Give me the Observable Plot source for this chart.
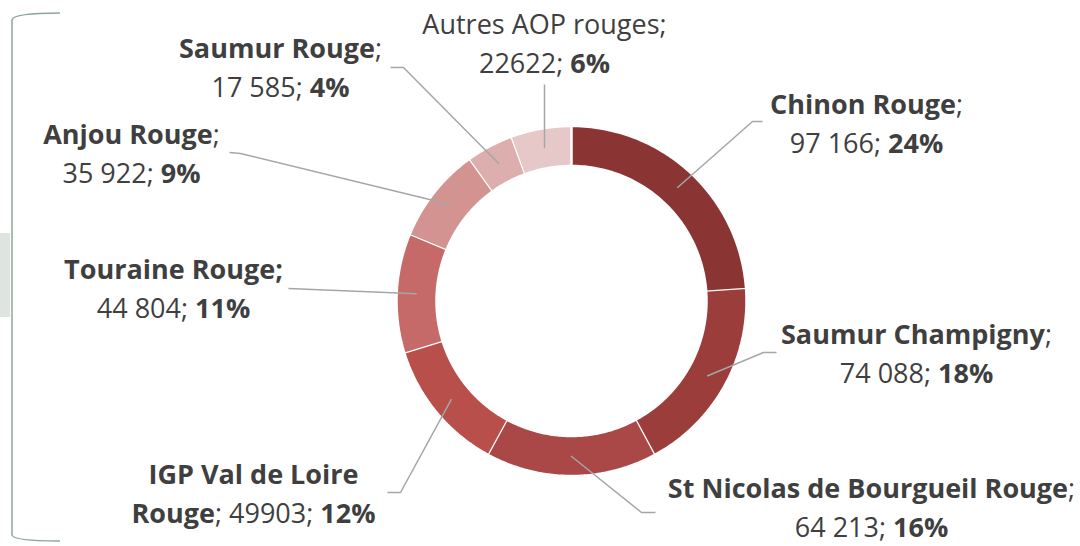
<!DOCTYPE html>
<html>
<head>
<meta charset="utf-8">
<script src="https://cdn.jsdelivr.net/npm/d3@7"></script>
<script src="https://cdn.jsdelivr.net/npm/@observablehq/plot@0.6"></script>
<style>
  html, body { margin: 0; padding: 0; background: #fff; }
  #chart svg { display: block; }
</style>
</head>
<body>
<div id="chart"></div>
<script>
// ---- data ----
const categories = ["Chinon Rouge", "Saumur Champigny", "St Nicolas de Bourgueil Rouge", "IGP Val de Loire Rouge", "Touraine Rouge", "Anjou Rouge", "Saumur Rouge", "Autres AOP rouges"];
const values = [97166, 74088, 64213, 49903, 44804, 35922, 17585, 22622];
const valueLabels = ["97 166", "74 088", "64 213", "49903", "44 804", "35 922", "17 585", "22622"];
const colors = ["#8A3533", "#9A3D3B", "#A94846", "#B84F4B", "#C56A69", "#D29391", "#DCAEAD", "#E7C8C9"];

// ---- layout (label templates & positions) ----
const labelTemplates = [
  ["**{name}**;", "{v}; **{p}**"],
  ["**{name}**;", "{v}; **{p}**"],
  ["**{name}**;", "{v}; **{p}**"],
  ["**{A}**", "**{B}**; {v}; **{p}**"],
  ["**{name};**", "{v}; **{p}**"],
  ["**{name}**;", "{v}; **{p}**"],
  ["**{name}**;", "{v}; **{p}**"],
  ["{name};", "{v}; **{p}**"]
];
const labelX = [866, 916, 871, 253, 173, 131, 280, 544];
const labelY1 = [113, 343, 497, 483, 278, 143, 57, 33];
const lineGap = 39;
const leaderElbow = [[752, 121], [763, 352], [641, 512], [400, 492], [288, 288], [240, 153], [403, 67], [544, 84]];
const leaderEnd = [[762, 121], [776, 352], [655, 512], [387, 492], [288, 288], [229, 152], [390, 67], [544, 84]];

const W = 1080, H = 546;
const cx = 571, cy = 300.5, rIn = 135, rOut = 175, rMid = 155;
const fontFamily = "'Open Sans', 'Noto Sans', sans-serif";
const fontSize = 27;

// ---- derived ----
const total = d3.sum(values);
const pie = d3.pie().sort(null).value(d => d)(values);
const pt = (a, r) => [cx + r * Math.sin(a), cy - r * Math.cos(a)];

const sliceRows = [];
pie.forEach((s, i) => {
  const n = 80;
  for (let k = 0; k <= n; k++) {
    const a = s.startAngle + (s.endAngle - s.startAngle) * k / n;
    const [x, y] = pt(a, rOut);
    sliceRows.push({cat: categories[i], x, y});
  }
  for (let k = n; k >= 0; k--) {
    const a = s.startAngle + (s.endAngle - s.startAngle) * k / n;
    const [x, y] = pt(a, rIn);
    sliceRows.push({cat: categories[i], x, y});
  }
});

const leaderRows = [];
pie.forEach((s, i) => {
  const mid = (s.startAngle + s.endAngle) / 2;
  const [x0, y0] = pt(mid, rMid);
  leaderRows.push({cat: categories[i], x: x0, y: y0});
  leaderRows.push({cat: categories[i], x: leaderElbow[i][0], y: leaderElbow[i][1]});
  leaderRows.push({cat: categories[i], x: leaderEnd[i][0], y: leaderEnd[i][1]});
});

const labelRows = [];
categories.forEach((name, i) => {
  const p = Math.round(values[i] / total * 100) + "%";
  const parts = name.split(" ");
  const B = parts[parts.length - 1];
  const A = parts.slice(0, -1).join(" ");
  labelTemplates[i].forEach((t, j) => {
    const text = t.replace("{name}", name).replace("{A}", A).replace("{B}", B)
      .replace("{v}", valueLabels[i]).replace("{p}", p);
    labelRows.push({x: labelX[i], y: labelY1[i] + j * lineGap, text});
  });
});

const plot = Plot.plot({
  width: W,
  height: H,
  margin: 0,
  x: {domain: [0, W], range: [0, W], axis: null},
  y: {domain: [0, H], range: [0, H], axis: null},
  color: {domain: categories, range: colors},
  style: {background: "white"},
  marks: [
    Plot.line(sliceRows, {x: "x", y: "y", z: "cat", fill: "cat", stroke: "white", strokeWidth: 2.5, strokeLinejoin: "miter", curve: "linear"}),
    Plot.line(leaderRows, {x: "x", y: "y", z: "cat", stroke: "#A6A6A6", strokeWidth: 1.5, strokeLinecap: "butt", curve: "linear"}),
    Plot.text(labelRows, {x: "x", y: "y", text: "text", textAnchor: "middle", lineAnchor: "bottom", fontSize, fontFamily, fill: "#3F3F3F"})
  ]
});

// rich text: **bold** segments
d3.select(plot).selectAll("text").each(function() {
  const s = this.textContent;
  if (!s.includes("**") && !s.includes(";")) return;
  const segs = s.split("**");
  const sel = d3.select(this);
  this.textContent = "";
  segs.forEach((seg, k) => {
    if (!seg) return;
    sel.append("tspan").attr("font-weight", k % 2 ? "bold" : "normal").text(seg);
  });
});

// decorative bracket at left
const svg = d3.select(plot);
svg.insert("rect", ":first-child").attr("x", 0).attr("y", 233).attr("width", 10).attr("height", 84).attr("fill", "#DFE4E1");
svg.append("path").attr("d", "M60,13 Q13,13 12,20 L12,535 Q13,541 60,541").attr("fill", "none").attr("stroke", "#8FA697").attr("stroke-width", 1.5);
svg.select("rect").lower();

document.getElementById("chart").appendChild(plot);
</script>
</body>
</html>
